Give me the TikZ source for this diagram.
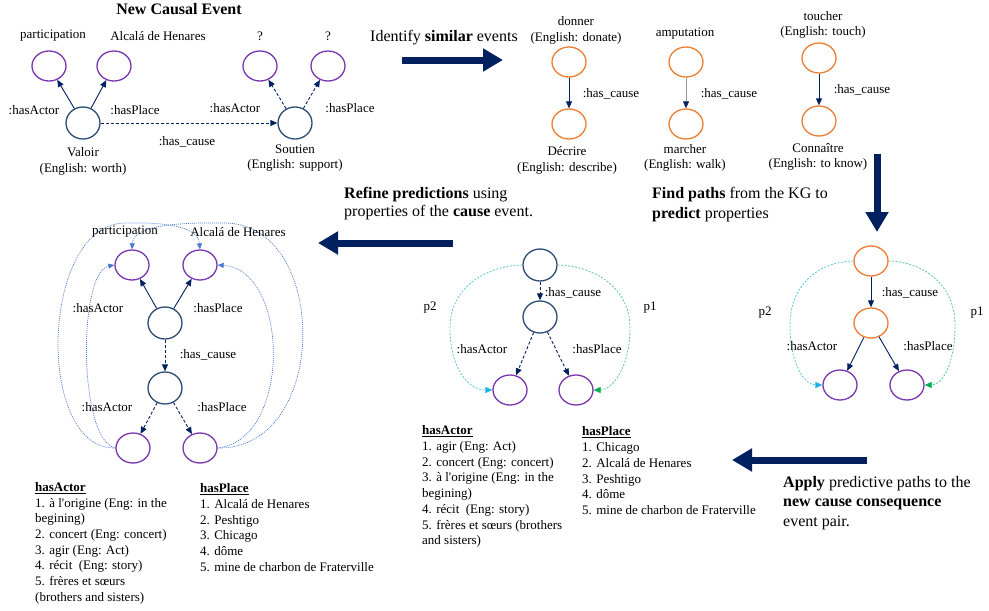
\documentclass[tikz,border=0pt]{standalone}
\usepackage{fontspec}
\setmainfont{Liberation Serif}
\usetikzlibrary{arrows.meta,shapes.geometric}
\definecolor{purp}{HTML}{7A35B0}
\definecolor{orng}{HTML}{ED7D31}
\definecolor{evblue}{HTML}{2B4C74}
\definecolor{navy}{HTML}{002060}
\definecolor{cyanA}{HTML}{1AB2E8}
\definecolor{cyanL}{HTML}{5CC8D8}
\definecolor{greenA}{HTML}{00B050}
\definecolor{greenL}{HTML}{5CC890}
\definecolor{dotblue}{HTML}{4A7BD0}
\definecolor{grayline}{HTML}{8C9AAE}
\begin{document}
\begin{tikzpicture}[x=1pt,y=-1pt,
  txt/.style={font=\fontsize{13}{15.6}\selectfont, inner sep=0pt, align=center},
  bigtxt/.style={font=\fontsize{16}{19.5}\selectfont, inner sep=0pt, align=left, anchor=west},
  listtxt/.style={font=\fontsize{13}{15.7}\selectfont, inner sep=0pt, align=left, anchor=west},
  circ/.style={ellipse, draw, line width=1.3pt, minimum width=34pt, minimum height=30pt, inner sep=0pt},
  pc/.style={circ, draw=purp},
  oc/.style={circ, draw=orng},
  bc/.style={circ, draw=evblue, minimum height=32pt},
  rel/.style={draw=navy, line width=0.9pt, -{Triangle[length=7pt,width=6pt]}},
  reld/.style={rel, dash pattern=on 3pt off 2pt},
  relg/.style={draw=grayline, line width=0.9pt, -{Triangle[length=7pt,width=6pt,color=navy]}},
  bigarrow/.style={draw=navy, line width=7pt, -{Triangle[length=20pt,width=22pt]}},
  dotc/.style={draw=dotblue, line width=0.7pt, dash pattern=on 1pt off 1pt, -{Triangle[length=6pt,width=5pt,color=dotblue]}},
  p2c/.style={draw=cyanL, line width=0.8pt, dash pattern=on 2pt off 1.5pt, -{Triangle[length=7pt,width=6pt,color=cyanA]}},
  p1c/.style={draw=greenL, line width=0.8pt, dash pattern=on 2pt off 1.5pt, -{Triangle[length=7pt,width=6pt,color=greenA]}}
]
\useasboundingbox (0,0) rectangle (989,611);

% ---------------- New causal event ----------------
\node[txt, font=\fontsize{16}{19}\selectfont\bfseries] (title) at (179,9) {New Causal Event};
\node[pc] (vp1) at (49,66) {};
\node[pc] (vp2) at (114,66) {};
\node[bc] (val) at (83,123) {};
\node[bc] (sou) at (295,123) {};
\node[pc] (sq1) at (260,66) {};
\node[pc] (sq2) at (328,66) {};
\node[txt] (lpart) at (53,36) {participation};
\node[txt] (lalc) at (158,36) {Alcalá de Henares};
\node[txt] (lq1) at (260,36) {?};
\node[txt] (lq2) at (328,36) {?};
\node[txt] (lva) at (34,110) {:hasActor};
\node[txt] (lvp) at (135,110) {:hasPlace};
\node[txt] (lsa) at (235,108) {:hasActor};
\node[txt] (lsp) at (350,108) {:hasPlace};
\node[txt] (lvc) at (187,142) {:has\_cause};
\node[txt] (lval) at (83,161.5) {Valoir\\(English: worth)};
\node[txt] (lsou) at (295,158) {Soutien\\(English: support)};
\draw[rel] (val) -- (vp1);
\draw[rel] (val) -- (vp2);
\draw[reld] (val) -- (sou);
\draw[reld] (sou) -- (sq1);
\draw[reld] (sou) -- (sq2);

% ---------------- Identify similar events ----------------
\node[txt, font=\fontsize{16}{19}\selectfont] (tident) at (444,38) {Identify \textbf{similar} events};
\coordinate (ia1) at (402,60);
\coordinate (ia2) at (503,60);
\draw[bigarrow] (ia1) -- (ia2);

\node[oc] (d1) at (569,62) {};
\node[oc] (d2) at (569,124) {};
\node[txt] (ld1) at (576,30.5) {donner\\(English: donate)};
\node[txt] (ld2) at (567,160.5) {Décrire\\(English: describe)};
\node[txt] (ldc) at (611,94) {:has\_cause};
\draw[rel] (d1) -- (d2);

\node[oc] (a1) at (686,62) {};
\node[oc] (a2) at (686,124) {};
\node[txt] (la1) at (685,34) {amputation};
\node[txt] (la2) at (685,158) {marcher\\(English: walk)};
\node[txt] (lac) at (729,94) {:has\_cause};
\draw[relg] (a1) -- (a2);

\node[oc] (t1) at (819,58) {};
\node[oc] (t2) at (819,121) {};
\node[txt] (lt1) at (823,25) {toucher\\(English: touch)};
\node[txt] (lt2) at (818,157) {Connaître\\(English: to know)};
\node[txt] (ltc) at (862,90) {:has\_cause};
\draw[rel] (t1) -- (t2);

% ---------------- Find paths ----------------
\coordinate (da1) at (877,154);
\coordinate (da2) at (877,232);
\draw[bigarrow] (da1) -- (da2);
\node[bigtxt, font=\fontsize{16}{20}\selectfont] (tfind) at (652,205) {\textbf{Find paths} from the KG to\\\textbf{predict} properties};

\node[oc] (rt) at (871,261) {};
\node[oc] (rm) at (871,323) {};
\node[pc] (rb1) at (840,385) {};
\node[pc] (rb2) at (907,385) {};
\draw[rel] (rt) -- (rm);
\draw[rel] (rm) -- (rb1);
\draw[rel] (rm) -- (rb2);
\draw[p2c] (rt.west) .. controls (818,262) and (790,285) .. (790,325) .. controls (790,365) and (805,385) .. (rb1.west);
\draw[p1c] (rt.east) .. controls (924,262) and (955,285) .. (955,325) .. controls (955,365) and (942,385) .. (rb2.east);
\node[txt] (lrc) at (910,293) {:has\_cause};
\node[txt] (lrp2) at (765,313) {p2};
\node[txt] (lrp1) at (977,313) {p1};
\node[txt] (lra) at (812,346) {:hasActor};
\node[txt] (lrp) at (928,346) {:hasPlace};

% ---------------- Apply ----------------
\coordinate (aa1) at (867,460);
\coordinate (aa2) at (732,460);
\draw[bigarrow] (aa1) -- (aa2);
\node[bigtxt] (tapply) at (783,503) {\textbf{Apply} predictive paths to the\\\textbf{new cause consequence}\\event pair.};

% ---------------- Middle graph ----------------
\node[bc] (mt) at (540,265) {};
\node[bc] (mm) at (540,317) {};
\node[pc] (mb1) at (510,390) {};
\node[pc] (mb2) at (576,390) {};
\draw[reld] (mt) -- (mm);
\draw[reld] (mm) -- (mb1);
\draw[reld] (mm) -- (mb2);
\draw[p2c] (mt.west) .. controls (485,266) and (450,288) .. (450,328) .. controls (450,368) and (468,390) .. (mb1.west);
\draw[p1c] (mt.east) .. controls (595,266) and (630,288) .. (630,328) .. controls (630,368) and (612,390) .. (mb2.east);
\node[txt] (lmc) at (573,293) {:has\_cause};
\node[txt] (lmp2) at (430,308) {p2};
\node[txt] (lmp1) at (650,308) {p1};
\node[txt] (lma) at (482,349) {:hasActor};
\node[txt] (lmp) at (597,349) {:hasPlace};

\node[listtxt] (mlista) at (422,486.7) {\underline{\textbf{hasActor}}\\1. agir (Eng: Act)\\2. concert (Eng: concert)\\3. à l\textquotesingle origine (Eng: in the\\begining)\\4. récit~ (Eng: story)\\5. frères et sœurs (brothers\\and sisters)};
\node[listtxt] (mlistp) at (582,470.8) {\underline{\textbf{hasPlace}}\\1. Chicago\\2. Alcalá de Henares\\3. Peshtigo\\4. dôme\\5. mine de charbon de Fraterville};

% ---------------- Refine ----------------
\node[bigtxt, font=\fontsize{16}{18}\selectfont] (trefine) at (344,204) {\textbf{Refine predictions} using\\properties of the \textbf{cause} event.};
\coordinate (ra1) at (453,243);
\coordinate (ra2) at (318,243);
\draw[bigarrow] (ra1) -- (ra2);

% ---------------- Left graph ----------------
\node[pc] (l1) at (132,265) {};
\node[pc] (l2) at (200,265) {};
\node[bc] (lm) at (165,323) {};
\node[bc] (ll) at (165,388) {};
\node[pc] (lb1) at (133,448) {};
\node[pc] (lb2) at (200,448) {};
\draw[dotc] (lb1.west) .. controls (78,440) and (78,272) .. (l1.west);
\draw[dotc] (lb1.west) .. controls (35,450) and (40,224) .. (125,223) .. controls (172,222) and (198,228) .. (l2.north);
\draw[dotc] (lb2.east) .. controls (292,440) and (290,270) .. (l2.east);
\draw[dotc] (lb2.east) .. controls (330,450) and (330,224) .. (225,223) .. controls (165,222) and (133,228) .. (l1.north);
\draw[rel] (lm) -- (l1);
\draw[rel] (lm) -- (l2);
\draw[reld] (lm) -- (ll);
\draw[reld] (ll) -- (lb1);
\draw[reld] (ll) -- (lb2);
\node[txt] (llpart) at (125,232) {participation};
\node[txt] (llalc) at (238,232) {Alcalá de Henares};
\node[txt] (lla1) at (98,308) {:hasActor};
\node[txt] (llp1) at (218,308) {:hasPlace};
\node[txt] (llc) at (208,355) {:has\_cause};
\node[txt] (lla2) at (107,407) {:hasActor};
\node[txt] (llp2) at (222,407) {:hasPlace};

\node[listtxt] (llista) at (35,543.3) {\underline{\textbf{hasActor}}\\1. à l\textquotesingle origine (Eng: in the\\begining)\\2. concert (Eng: concert)\\3. agir (Eng: Act)\\4. récit~ (Eng: story)\\5. frères et sœurs\\(brothers and sisters)};
\node[listtxt] (llistp) at (200,527.5) {\underline{\textbf{hasPlace}}\\1. Alcalá de Henares\\2. Peshtigo\\3. Chicago\\4. dôme\\5. mine de charbon de Fraterville};
\end{tikzpicture}
\end{document}
